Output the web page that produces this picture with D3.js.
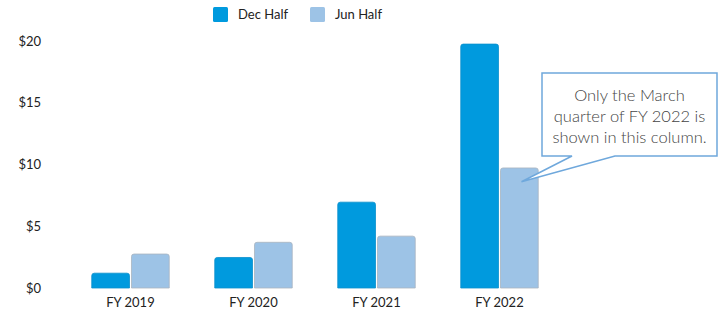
<!DOCTYPE html>
<html>
<head>
<meta charset="utf-8">
<script src="https://cdn.jsdelivr.net/npm/d3@7"></script>
<style>
  body { margin: 0; background: #fff; }
  text { font-family: Lato, "Open Sans", sans-serif; }
</style>
</head>
<body>
<script>
const years = ["FY 2019", "FY 2020", "FY 2021", "FY 2022"];
const series = ["Dec Half", "Jun Half"];
const decHalf = [1.2, 2.47, 6.95, 19.75];
const junHalf = [2.75, 3.7, 4.2, 9.72];
const yTicks = [0, 5, 10, 15, 20];
const colors = ["#009ade", "#9dc3e6"];
const noteLines = ["Only the March", "quarter of FY 2022 is", "shown in this column."];

const width = 719, height = 310;
const data = years.map((y, i) => ({year: y, values: [decHalf[i], junHalf[i]]}));

const x0 = d3.scaleBand()
    .domain(years)
    .range([69, 561])
    .paddingInner(0.37)
    .paddingOuter(0.185);

const x1 = d3.scaleBand()
    .domain(series)
    .range([0, x0.bandwidth()])
    .paddingInner(0.05);

const y = d3.scaleLinear()
    .domain([0, 20])
    .range([288, 41]);

const svg = d3.select("body").append("svg")
    .attr("width", width)
    .attr("height", height);

// y axis labels only
svg.append("g")
    .selectAll("text")
    .data(yTicks)
    .join("text")
    .attr("x", 41)
    .attr("y", d => y(d))
    .attr("dy", "0.35em")
    .attr("text-anchor", "end")
    .attr("font-size", 13)
    .attr("fill", "#222")
    .text(d => "$" + d);

// bars with rounded tops
const topRounded = (bx, by, bw, bh, r) => {
  r = Math.min(r, bh / 2);
  return `M${bx},${by + bh}V${by + r}Q${bx},${by} ${bx + r},${by}H${bx + bw - r}Q${bx + bw},${by} ${bx + bw},${by + r}V${by + bh}Z`;
};

const groups = svg.append("g")
    .selectAll("g")
    .data(data)
    .join("g")
    .attr("transform", d => `translate(${x0(d.year)},0)`);

groups.selectAll("path")
    .data(d => d.values.map((v, i) => ({key: series[i], value: v, i})))
    .join("path")
    .attr("fill", d => colors[d.i])
    .attr("stroke", d => d.i === 1 ? "#a9b4bf" : "#0a8fcc")
    .attr("stroke-width", 0.8)
    .attr("d", d => topRounded(x1(d.key), y(d.value), x1.bandwidth(), y(0) - y(d.value), 2.5));

// x labels
svg.append("g")
    .selectAll("text")
    .data(years)
    .join("text")
    .attr("x", d => x0(d) + x0.bandwidth() / 2)
    .attr("y", 302)
    .attr("dy", "0.35em")
    .attr("text-anchor", "middle")
    .attr("font-size", 13)
    .attr("fill", "#222")
    .text(d => d);

// legend
const legend = svg.append("g")
    .selectAll("g")
    .data(series)
    .join("g")
    .attr("transform", (d, i) => `translate(${213 + i * 97},7)`);
legend.append("rect")
    .attr("width", 15)
    .attr("height", 15)
    .attr("rx", 1.5)
    .attr("fill", (d, i) => colors[i]);
legend.append("text")
    .attr("x", 25)
    .attr("y", 7.5)
    .attr("dy", "0.35em")
    .attr("font-size", 13)
    .attr("fill", "#222")
    .text(d => d);

// callout pointing into the FY 2022 Jun bar
const tipX = x0("FY 2022") + x1("Jun Half") + 21;
const tipY = y(8.6);
const box = {x: 542, y: 73, w: 175, h: 83};
svg.append("path")
    .attr("d", `M${box.x},${box.y}H${box.x + box.w}V${box.y + box.h}H${box.x + 73}L${tipX},${tipY}L${box.x + 30},${box.y + box.h}H${box.x}Z`)
    .attr("fill", "#fff")
    .attr("stroke", "#6fa8dc")
    .attr("stroke-width", 1.5);

svg.append("g")
    .selectAll("text")
    .data(noteLines)
    .join("text")
    .attr("x", box.x + box.w / 2)
    .attr("y", (d, i) => box.y + 22 + i * 21)
    .attr("dy", "0.35em")
    .attr("text-anchor", "middle")
    .attr("font-size", 16.5)
    .attr("font-weight", 300)
    .attr("fill", "#444")
    .text(d => d);
</script>
</body>
</html>
